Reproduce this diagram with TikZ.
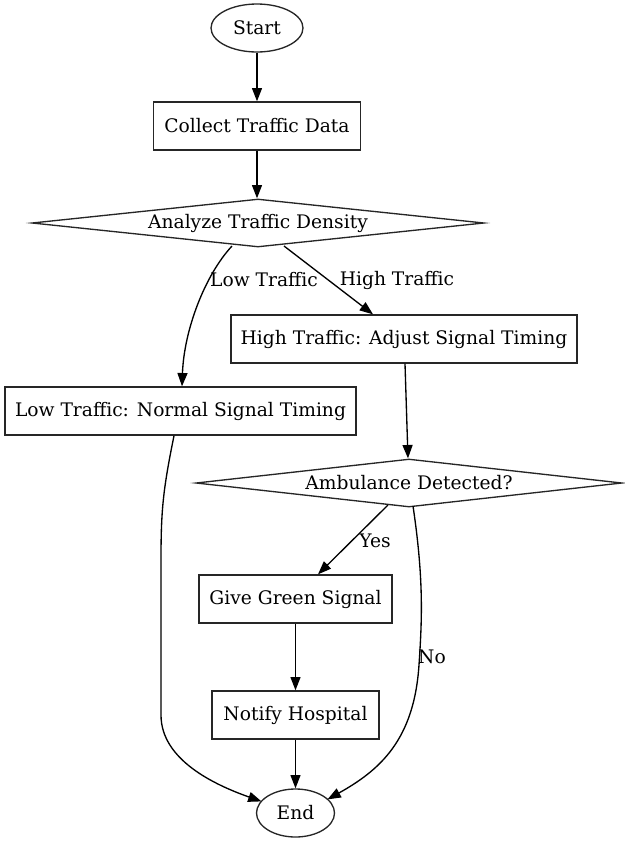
\documentclass[tikz,border=0pt]{standalone}
\usepackage{fontspec}
\setmainfont{DejaVu Serif}
\usetikzlibrary{shapes.geometric,arrows.meta}
\newcommand\pxu{0.75pt}
\begin{document}
\begin{tikzpicture}[x=0.75pt,y=-0.75pt,
  every node/.style={font=\fontsize{14}{17}\selectfont},
  base/.style={draw=black!85, line width=1pt, fill=white, inner sep=0pt},
  procbox/.style={base, rectangle, minimum height=48*\pxu},
  term/.style={base, ellipse, minimum height=48*\pxu},
  decision/.style={base, diamond, shape aspect=9, minimum height=48*\pxu},
  conn/.style={line width=1pt, -{Triangle[length=10pt,width=7.5pt]}},
  lbl/.style={inner sep=0pt}]
\useasboundingbox (0,0) rectangle (625,843);
\node[term, minimum width=92*\pxu] (start) at (257,28) {Start};
\node[procbox, minimum width=207*\pxu] (collect) at (257,126) {Collect Traffic Data};
\node[decision, minimum width=452*\pxu] (analyze) at (258,223) {Analyze Traffic Density};
\node[procbox, minimum width=346*\pxu] (high) at (404,339) {High Traffic: Adjust Signal Timing};
\node[procbox, minimum width=351*\pxu] (low) at (180.5,411) {Low Traffic: Normal Signal Timing};
\node[decision, minimum width=426*\pxu] (amb) at (409,483) {Ambulance Detected?};
\node[procbox, minimum width=193*\pxu] (give) at (295.5,599) {Give Green Signal};
\node[procbox, minimum width=167*\pxu] (notify) at (295.5,715) {Notify Hospital};
\node[term, minimum width=78*\pxu] (end) at (295.5,813) {End};

\draw[conn] (start) -- (collect);
\draw[conn] ([shift={(0,0)}]collect.south) -- ([shift={(-1,0)}]analyze.north);
\draw[conn] ([shift={(-26,23)}]analyze.center) .. controls (205,275) and (184,330) .. ([shift={(1.5,0)}]low.north);
\draw[conn] ([shift={(26,23)}]analyze.center) -- ([shift={(-31,0)}]high.north);
\draw[conn] ([shift={(1,0)}]high.south) -- ([shift={(-1,0)}]amb.north);
\draw[conn] ([shift={(-6.5,0)}]low.south) .. controls (163,490) and (161,510) .. (161,560) -- (161,715) .. controls (161,760) and (215,785) .. ([shift={(-34,-11.6)}]end.center);
\draw[conn] ([shift={(-21,22)}]amb.center) -- ([shift={(22.5,0)}]give.north);
\draw[conn] ([shift={(4,23)}]amb.center) .. controls (424,580) and (422,620) .. (419,665) .. controls (414,740) and (380,770) .. ([shift={(32,-13.6)}]end.center);
\draw[conn] (give) -- (notify);
\draw[conn] (notify) -- (end);

\node[lbl] (lowlbl) at (264,280) {Low Traffic};
\node[lbl] (highlbl) at (397,280) {High Traffic};
\node[lbl] (yeslbl) at (375,541) {Yes};
\node[lbl] (nolbl) at (432,657) {No};
\end{tikzpicture}
\end{document}
